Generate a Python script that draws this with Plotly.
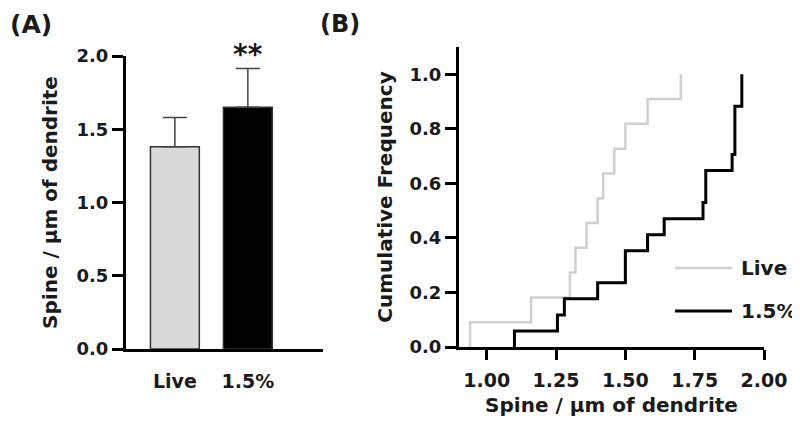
import plotly.graph_objects as go

# ---------------- data ----------------
categories = ["Live", "1.5%"]
bar_means = [1.38, 1.65]
bar_errors = [0.20, 0.265]
bar_colors = ["#d9d9d9", "#000000"]

# individual spine densities (B)
live_values = [0.94, 1.16, 1.30, 1.32, 1.36, 1.40, 1.42, 1.46, 1.50, 1.58, 1.70]
pct_values = [1.10, 1.255, 1.28, 1.40, 1.50, 1.50, 1.58, 1.64, 1.78, 1.79, 1.79,
              1.885, 1.895, 1.895, 1.895, 1.92, 1.92]

a_yticks = [0.0, 0.5, 1.0, 1.5, 2.0]
b_xticks = [1.00, 1.25, 1.50, 1.75, 2.00]
b_yticks = [0.0, 0.2, 0.4, 0.6, 0.8, 1.0]


def ecdf(vals):
    v = sorted(vals)
    n = len(v)
    xs = [v[0]] + v
    ys = [0.0] + [(i + 1) / n for i in range(n)]
    return xs, ys


FONT = "DejaVu Sans"
TXT = "#1a1a1a"
OFF = 8  # page body margin
W, H = 800 - OFF, 432 - OFF


def px(x):
    return (x - OFF) / W


def py(y):
    return 1 - (y - OFF) / H


fig = go.Figure()

fig.add_trace(go.Bar(
    x=categories, y=bar_means, width=0.67,
    marker=dict(color=bar_colors, line=dict(color="#333333", width=1.5)),
    error_y=dict(type="data", symmetric=False, array=bar_errors,
                 arrayminus=[0, 0], color="#444444", thickness=1.5, width=12),
    xaxis="x", yaxis="y", showlegend=False,
))

lx, ly = ecdf(live_values)
fig.add_trace(go.Scatter(x=lx, y=ly, mode="lines", line=dict(color="#d0d0d0", width=2.5, shape="hv"),
                         xaxis="x2", yaxis="y2", name="Live", showlegend=False))
bx, by = ecdf(pct_values)
fig.add_trace(go.Scatter(x=bx, y=by, mode="lines", line=dict(color="#000000", width=3, shape="hv"),
                         xaxis="x2", yaxis="y2", name="1.5%", showlegend=False))

tickfont = dict(family=FONT, size=18, color=TXT, weight="bold")
xtickfont = dict(family=FONT, size=19, color=TXT, weight="bold")
titlefont = dict(family=FONT, size=20, color=TXT, weight="bold")
common = dict(showgrid=False, zeroline=False, showline=True, linecolor="#000000",
              linewidth=3, automargin=False)

fig.update_layout(
    width=W, height=H,
    margin=dict(l=0, r=0, t=0, b=0, autoexpand=False),
    paper_bgcolor="white", plot_bgcolor="white",
    xaxis=dict(domain=[px(126), px(323)], range=[-0.67, 2.03], type="category",
               ticks="", ticklabelstandoff=13, anchor="y", tickfont=xtickfont, **common),
    yaxis=dict(domain=[py(349), py(56)], range=[0, 2.0], tickvals=a_yticks, tickformat=".1f",
               ticks="outside", ticklen=11, tickwidth=2.5, tickcolor="#000000", anchor="x",
               tickfont=tickfont,
               title=dict(text="Spine / µm of dendrite", font=titlefont, standoff=14), **common),
    xaxis2=dict(domain=[px(459), px(764)], range=[0.9, 2.0], tickvals=b_xticks, tickformat=".2f",
                ticks="outside", ticklen=10, tickwidth=2.5, tickcolor="#000000", anchor="y2",
                ticklabelstandoff=4, tickfont=xtickfont,
                title=dict(text="Spine / µm of dendrite", font=titlefont, standoff=9), **common),
    yaxis2=dict(domain=[py(347), py(47)], range=[0, 1.1], tickvals=b_yticks, tickformat=".1f",
                ticks="outside", ticklen=11, tickwidth=2.5, tickcolor="#000000", anchor="x2",
                tickfont=tickfont,
                title=dict(text="Cumulative Frequency", font=titlefont, standoff=12), **common),
)

# significance stars
fig.add_annotation(x=categories[1], y=bar_means[1] + bar_errors[1], xref="x", yref="y",
                   text="**", showarrow=False, yanchor="bottom", yshift=-5,
                   font=dict(family=FONT, size=28, color=TXT, weight="bold"))

# panel labels
fig.add_annotation(x=0.0, y=1.0, xref="paper", yref="paper", text="(A)", showarrow=False,
                   xanchor="left", yanchor="top", font=dict(family=FONT, size=25, color=TXT, weight="bold"))
fig.add_annotation(x=px(318), y=1.0, xref="paper", yref="paper", text="(B)", showarrow=False,
                   xanchor="left", yanchor="top", font=dict(family=FONT, size=24, color=TXT, weight="bold"))

# legend for panel B
leg = [("Live", "#d0d0d0", 2.5, 268), ("1.5%", "#000000", 3, 311)]
for name, col, wd, yy in leg:
    fig.add_shape(type="line", xref="paper", yref="paper", x0=px(675), x1=px(732), y0=py(yy), y1=py(yy),
                  line=dict(color=col, width=wd))
    fig.add_annotation(x=px(739), y=py(yy), xref="paper", yref="paper", text=name, showarrow=False,
                       xanchor="left", yanchor="middle",
                       font=dict(family=FONT, size=20, color=TXT, weight="bold"))

fig.write_html("out.html")
